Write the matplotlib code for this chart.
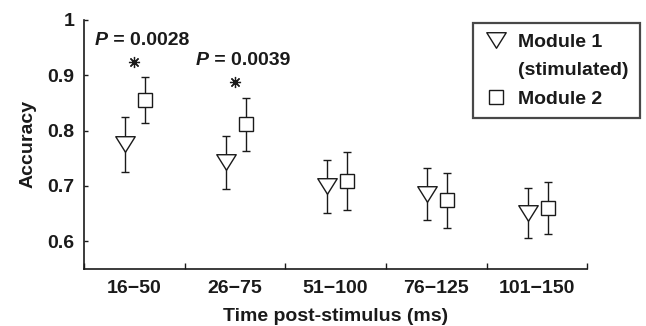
import numpy as np
import matplotlib
matplotlib.use("Agg")
import matplotlib.pyplot as plt
from matplotlib.lines import Line2D
from matplotlib.path import Path

plt.rcParams['font.family'] = ['Liberation Sans', 'DejaVu Sans']
plt.rcParams['font.weight'] = 'bold'

# time windows (ms)
windows = ['16\u221250', '26\u221275', '51\u2212100', '76\u2212125', '101\u2212150']
mod1_mean = [0.775, 0.743, 0.699, 0.685, 0.651]
mod1_err = [0.050, 0.048, 0.048, 0.047, 0.045]
mod2_mean = [0.855, 0.811, 0.709, 0.674, 0.661]
mod2_err = [0.042, 0.048, 0.053, 0.050, 0.047]
# significance marks
sig_idx = [0, 1]
sig_star_y = [0.924, 0.887]
sig_text = ['0.0028', '0.0039']
sig_text_y = [0.962, 0.926]

ink = '#1a1a1a'
fs = 14
fig = plt.figure(figsize=(6.46, 3.26), dpi=100)
ax = fig.add_axes([0.130, 0.175, 0.779, 0.764])

x = np.arange(len(windows)) + 0.5
tri = Path([(-1, 0.8), (1, 0.8), (0, -0.8), (-1, 0.8)],
           [Path.MOVETO, Path.LINETO, Path.LINETO, Path.CLOSEPOLY])

ax.errorbar(x - 0.09, mod1_mean, yerr=mod1_err, fmt='none', ecolor=ink,
            elinewidth=1, capsize=3, capthick=1)
ax.plot(x - 0.09, mod1_mean, ls='none', marker=tri, ms=14, mfc='white',
        mec=ink, mew=1)
ax.errorbar(x + 0.11, mod2_mean, yerr=mod2_err, fmt='none', ecolor=ink,
            elinewidth=1, capsize=3, capthick=1)
ax.plot(x + 0.11, mod2_mean, ls='none', marker='s', ms=10, mfc='white',
        mec=ink, mew=1)

for i, sy, txt, ty in zip(sig_idx, sig_star_y, sig_text, sig_text_y):
    ax.plot(x[i], sy, ls='none', marker=(8, 2, 0), ms=8, mec=ink, mew=0.9)
    ax.text(x[i] - 0.39, ty, 'P', style='italic', fontsize=fs,
            fontweight='bold', color=ink, va='center', ha='left')
    ax.text(x[i] - 0.39 + 0.13, ty, ' = ' + txt, fontsize=fs, fontweight='bold',
            color=ink, va='center', ha='left')

ax.set_xlim(0, len(windows))
ax.set_ylim(0.55, 1.0)
ax.set_xticks(np.arange(len(windows) + 1))
ax.set_xticklabels([])
ax.set_xticks(x, minor=True)
ax.set_xticklabels(windows, minor=True, fontsize=fs, fontweight='bold', color=ink)
ax.tick_params(axis='x', which='major', direction='in', length=4, width=1, color=ink)
ax.tick_params(axis='x', which='minor', length=0, pad=8)
ax.set_yticks([0.6, 0.7, 0.8, 0.9, 1.0])
ax.set_yticklabels(['0.6', '0.7', '0.8', '0.9', '1'], fontsize=fs,
                   fontweight='bold', color=ink)
ax.tick_params(axis='y', direction='in', length=3, width=1, color=ink, pad=7)
for s in ['top', 'right']:
    ax.spines[s].set_visible(False)
for s in ['left', 'bottom']:
    ax.spines[s].set_color(ink)
    ax.spines[s].set_linewidth(1.2)

ax.set_xlabel('Time post-stimulus (ms)', fontsize=fs, fontweight='bold',
              color=ink, labelpad=8)
ax.set_ylabel('Accuracy', fontsize=fs, fontweight='bold', color=ink, labelpad=8)

h1 = Line2D([], [], ls='none', marker=tri, ms=14, mfc='white', mec=ink, mew=1)
h0 = Line2D([], [], ls='none')
h2 = Line2D([], [], ls='none', marker='s', ms=10, mfc='white', mec=ink, mew=1)
leg = fig.legend([h1, h0, h2], ['Module 1', '(stimulated)', 'Module 2'],
                 loc='upper right', bbox_to_anchor=(0.99, 0.93),
                 prop={'size': fs, 'weight': 'bold'}, frameon=True,
                 fancybox=False, shadow=False, handlelength=1.3,
                 handletextpad=0.5, labelspacing=0.55, borderpad=0.55,
                 borderaxespad=0)
leg.get_frame().set_edgecolor(ink)
leg.get_frame().set_linewidth(1.6)
for t in leg.get_texts():
    t.set_color(ink)

fig.savefig('out.png', dpi=100)
